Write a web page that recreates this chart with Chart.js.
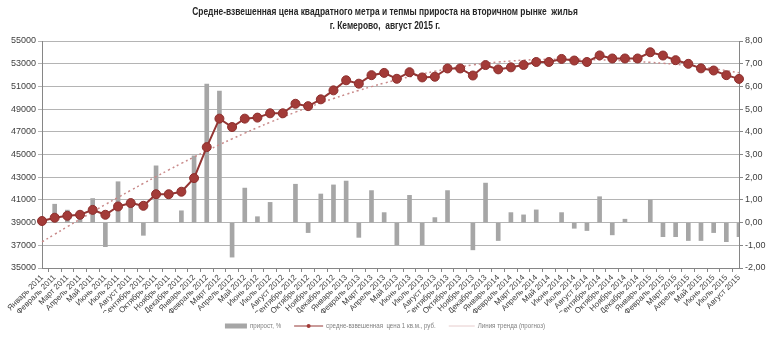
<!DOCTYPE html>
<html>
<head>
<meta charset="utf-8">
<script src="https://cdn.jsdelivr.net/npm/chart.js@4/dist/chart.umd.min.js"></script>
<style>
  body { margin: 0; background: #ffffff; }
</style>
</head>
<body>
<canvas id="priceChart" width="770" height="346"></canvas>
<script>
var months = ['Январь 2011', 'Февраль 2011', 'Март 2011', 'Апрель 2011', 'Май 2011', 'Июнь 2011', 'Июль 2011', 'Август 2011', 'Сентябрь 2011', 'Октябрь 2011', 'Ноябрь 2011', 'Декабрь 2011',
  'Январь 2012', 'Февраль 2012', 'Март 2012', 'Апрель 2012', 'Май 2012', 'Июнь 2012', 'Июль 2012', 'Август 2012', 'Сентябрь 2012', 'Октябрь 2012', 'Ноябрь 2012', 'Декабрь 2012',
  'Январь 2013', 'Февраль 2013', 'Март 2013', 'Апрель 2013', 'Май 2013', 'Июнь 2013', 'Июль 2013', 'Август 2013', 'Сентябрь 2013', 'Октябрь 2013', 'Ноябрь 2013', 'Декабрь 2013',
  'Январь 2014', 'Февраль 2014', 'Март 2014', 'Апрель 2014', 'Май 2014', 'Июнь 2014', 'Июль 2014', 'Август 2014', 'Сентябрь 2014', 'Октябрь 2014', 'Ноябрь 2014', 'Декабрь 2014',
  'Январь 2015', 'Февраль 2015', 'Март 2015', 'Апрель 2015', 'Май 2015', 'Июнь 2015', 'Июль 2015', 'Август 2015'];

// средне-взвешенная цена 1 кв.м., руб.
var price = [39140, 39430, 39600, 39690, 40120, 39690, 40420, 40720, 40480, 41500, 41500, 41720,
  42920, 45650, 48160, 47420, 48160, 48250, 48630, 48630, 49470, 49260, 49860, 50650,
  51540, 51240, 51990, 52190, 51670, 52250, 51790, 51850, 52580, 52580, 51960, 52880,
  52500, 52680, 52890, 53150, 53150, 53420, 53280, 53150, 53730, 53460, 53460, 53460,
  54010, 53720, 53310, 52990, 52590, 52400, 51990, 51660];

// прирост, %
var growth = [null, 0.81, 0.55, 0.28, 1.06, -1.06, 1.80, 0.78, -0.56, 2.50, null, 0.52,
  2.94, 6.10, 5.79, -1.52, 1.52, 0.26, 0.89, null, 1.69, -0.44, 1.26, 1.66,
  1.83, -0.65, 1.41, 0.44, -0.98, 1.20, -0.98, 0.22, 1.41, null, -1.20, 1.74,
  -0.79, 0.44, 0.34, 0.56, null, 0.44, -0.25, -0.35, 1.14, -0.54, 0.15, null,
  1.00, -0.62, -0.62, -0.79, -0.79, -0.44, -0.84, -0.62];

// Линия тренда (прогноз)
var trend = [37300, 37970, 38640, 39300, 39950, 40590, 41220, 41840, 42450, 43050, 43640, 44220,
  44780, 45330, 45860, 46380, 46880, 47370, 47840, 48290, 48730, 49150, 49550, 49930,
  50300, 50650, 50980, 51290, 51580, 51850, 52100, 52330, 52540, 52730, 52890, 53030,
  53150, 53240, 53310, 53360, 53390, 53400, 53390, 53370, 53340, 53300, 53250, 53190,
  53120, 53040, 52950, 52830, 52700, 52560, 52390, 52210];

var leftTicks = [35000, 55000, 2000];
var rightTicks = [-2, 8, 1];

var titleLines = ['Средне-взвешенная цена квадратного метра и тепмы прироста на вторичном рынке  жилья',
  'г. Кемерово,  август 2015 г.'];

Chart.defaults.font.family = "'Liberation Sans', Arial, sans-serif";
Chart.defaults.color = '#404040';

// title and legend are drawn by hand: Excel's narrow font and flat legend
var textPlugin = {
    id: 'textPlugin',
    afterDraw: function(chart) {
        var g = chart.ctx;
        var cx = chart.width / 2;
        g.save();
        g.fillStyle = '#262626';
        g.font = "bold 10.5px 'Liberation Sans', Arial, sans-serif";
        g.textAlign = 'center';
        g.textBaseline = 'middle';
        titleLines.forEach(function(line, k) {
            g.save();
            g.translate(cx, 12 + k * 14);
            g.scale(0.8, 1);
            g.fillText(line, 0, 0);
            g.restore();
        });

        // legend row
        var squeeze = 0.88, gap = 13, y = 326;
        var iconW = [22, 29, 26];
        g.font = "7px 'Liberation Sans', Arial, sans-serif";
        var items = chart.data.datasets.map(function(ds, i) {
            return { text: ds.label, w: iconW[i] + 3 + g.measureText(ds.label).width * squeeze };
        });
        var total = items.reduce(function(s, it) { return s + it.w; }, 0) + gap * (items.length - 1);
        var x = cx - total / 2;
        items.forEach(function(it, i) {
            if (i === 0) {
                g.fillStyle = '#a6a6a6';
                g.fillRect(x, y - 2.5, iconW[0], 5);
            } else if (i === 1) {
                g.strokeStyle = '#943634'; g.lineWidth = 1;
                g.beginPath(); g.moveTo(x, y); g.lineTo(x + iconW[1], y); g.stroke();
                g.fillStyle = '#a33b38';
                g.beginPath(); g.arc(x + iconW[1] / 2, y, 2, 0, Math.PI * 2); g.fill();
            } else {
                g.strokeStyle = '#e6cccc'; g.lineWidth = 1;
                g.beginPath(); g.moveTo(x, y); g.lineTo(x + iconW[2], y); g.stroke();
            }
            g.save();
            g.translate(x + iconW[i] + 3, y);
            g.scale(squeeze, 1);
            g.fillStyle = '#7f7f7f';
            g.textAlign = 'left';
            g.fillText(it.text, 0, 0);
            g.restore();
            x += it.w + gap;
        });
        g.restore();
    }
};

document.addEventListener('DOMContentLoaded', function() {
var ctx = document.getElementById('priceChart').getContext('2d');

var priceChart = new Chart(ctx, {
    type: 'bar',
    data: {
        labels: months,
        datasets: [{
            type: 'bar',
            label: 'прирост, %',
            data: growth,
            yAxisID: 'y1',
            backgroundColor: '#a6a6a6',
            barThickness: 4,
            order: 3
        }, {
            type: 'line',
            label: 'средне-взвешенная  цена 1 кв.м., руб.',
            data: price,
            yAxisID: 'y',
            borderColor: '#943634',
            borderWidth: 2,
            backgroundColor: '#a33b38',
            pointBackgroundColor: '#a33b38',
            pointBorderColor: '#8c2f2d',
            pointBorderWidth: 1,
            pointRadius: 4.5,
            tension: 0,
            order: 1
        }, {
            type: 'line',
            label: 'Линия тренда (прогноз)',
            data: trend,
            yAxisID: 'y',
            borderColor: '#c98a8a',
            borderWidth: 1.5,
            borderDash: [2, 3],
            pointRadius: 0,
            tension: 0.4,
            order: 2
        }]
    },
    options: {
        responsive: false,
        animation: false,
        layout: { padding: { top: 41, bottom: 33, left: 0, right: 0 } },
        plugins: {
            title: { display: false },
            legend: { display: false },
            tooltip: { enabled: false }
        },
        scales: {
            x: {
                offset: false,
                grid: { drawOnChartArea: false, drawTicks: true, tickLength: 4, color: '#868686' },
                border: { color: '#868686' },
                ticks: { autoSkip: false, minRotation: 45, maxRotation: 45, padding: 1, font: { size: 8 } },
                afterFit: function(scale) { scale.height = 45; }
            },
            y: {
                position: 'left',
                min: leftTicks[0],
                max: leftTicks[1],
                ticks: { stepSize: leftTicks[2], padding: 2, font: { size: 9 },
                         callback: function(v) { return String(v); } },
                grid: { color: '#b4b4b4', tickLength: 4 },
                border: { color: '#868686' },
                afterFit: function(scale) { scale.width = 42; }
            },
            y1: {
                position: 'right',
                min: rightTicks[0],
                max: rightTicks[1],
                ticks: { stepSize: rightTicks[2], padding: 2, font: { size: 9 },
                         callback: function(v) { return v.toFixed(2).replace('.', ','); } },
                grid: { drawOnChartArea: false, tickLength: 4, color: '#868686' },
                border: { color: '#868686' },
                afterFit: function(scale) { scale.width = 31; }
            }
        }
    },
    plugins: [textPlugin]
});
});
</script>
</body>
</html>
